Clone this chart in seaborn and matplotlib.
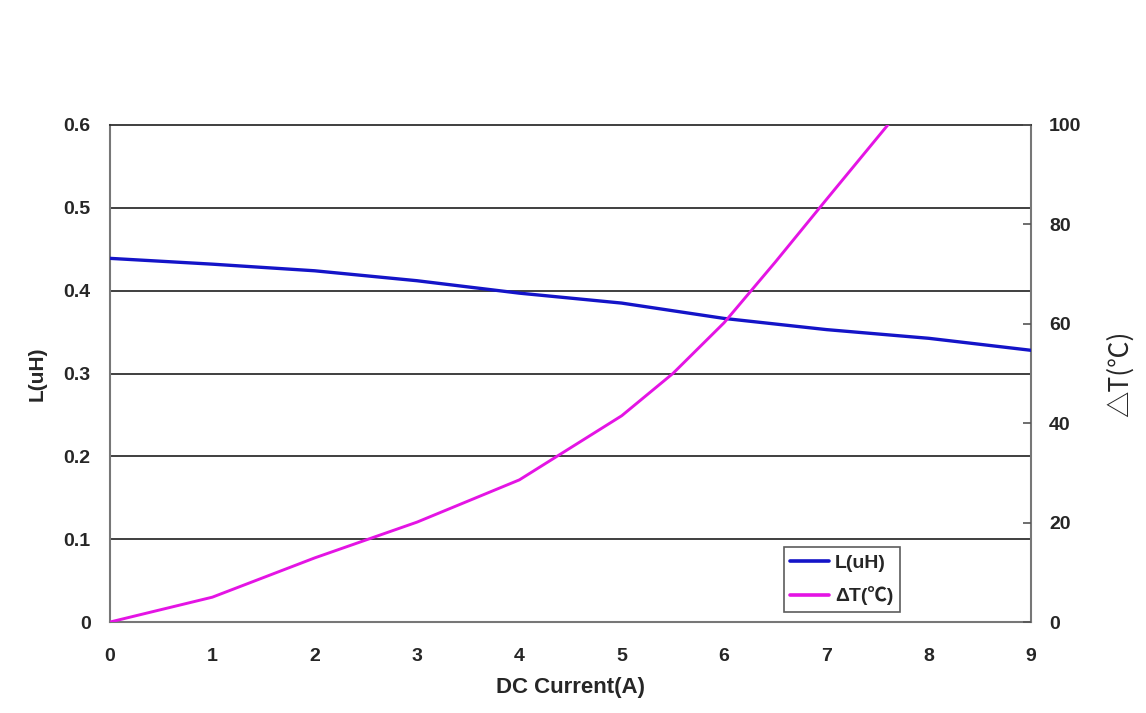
import matplotlib
matplotlib.use("Agg")
import matplotlib.pyplot as plt
import seaborn as sns
import pandas as pd
from matplotlib.lines import Line2D

# Data
current_L = [0, 1, 2, 3, 4, 5, 6, 7, 8, 9]
inductance = [0.439, 0.432, 0.424, 0.412, 0.397, 0.385, 0.3665, 0.353, 0.3425, 0.328]

current_T = [0, 1, 2, 3, 4, 5, 5.5, 6, 6.5, 7, 8]
delta_t = [0, 5.0, 12.9, 20.1, 28.6, 41.5, 50.0, 60.2, 72.4, 85.0, 110.0]

x_ticks = [0, 1, 2, 3, 4, 5, 6, 7, 8, 9]
left_ticks = [0, 0.1, 0.2, 0.3, 0.4, 0.5, 0.6]
left_labels = ["0", "0.1", "0.2", "0.3", "0.4", "0.5", "0.6"]
right_ticks = [0, 20, 40, 60, 80, 100]

sns.set_theme(style="white")
plt.rcParams["font.family"] = ["Liberation Sans", "DejaVu Sans"]

blue = "#1414c8"
magenta = "#e414e4"

fig = plt.figure(figsize=(11.46, 7.13), dpi=100)
ax = fig.add_axes([0.096, 0.1276, 0.8037, 0.6971])
ax2 = ax.twinx()

dfL = pd.DataFrame({"x": current_L, "y": inductance})
dfT = pd.DataFrame({"x": current_T, "y": delta_t})

sns.lineplot(data=dfL, x="x", y="y", ax=ax, color=blue, linewidth=2.4, zorder=5)
sns.lineplot(data=dfT, x="x", y="y", ax=ax2, color=magenta, linewidth=2.1)

ax.set_xlim(0, 9)
ax.set_ylim(0, 0.6)
ax2.set_ylim(0, 100)

# horizontal grid lines on left axis
for t in left_ticks[1:-1]:
    ax.axhline(t, color="#303030", linewidth=1.3, zorder=1)

ax.set_xticks(x_ticks)
ax.set_xticklabels([str(v) for v in x_ticks], fontsize=14, fontweight="bold")
ax.set_yticks(left_ticks)
ax.set_yticklabels(left_labels, fontsize=14, fontweight="bold")
ax2.set_yticks(right_ticks)
ax2.set_yticklabels([str(v) for v in right_ticks], fontsize=14, fontweight="bold")

ax.tick_params(axis="x", direction="in", length=6, width=1.2, color="#555555", pad=19)
ax.tick_params(axis="y", length=0, pad=14)
ax2.tick_params(axis="y", direction="in", length=6, width=1.2, color="#555555", pad=13)

for sp in ["left", "bottom", "right"]:
    ax.spines[sp].set_color("#777777")
    ax.spines[sp].set_linewidth(1.5)
ax.spines["top"].set_color("#303030")
ax.spines["top"].set_linewidth(1.3)
for sp in ax2.spines.values():
    sp.set_visible(False)

ax.set_xlabel("DC Current(A)", fontsize=16, fontweight="bold", labelpad=8)
ax.set_ylabel("L(uH)", fontsize=15, fontweight="bold", labelpad=12)
ax2.set_ylabel("△T(℃)", fontsize=19, labelpad=18,
               family=["Noto Sans CJK SC", "DejaVu Sans"])

handles = [Line2D([0], [0], color=blue, linewidth=2.6),
           Line2D([0], [0], color=magenta, linewidth=2.6)]
leg = ax2.legend(handles, ["L(uH)", "ΔT(℃)"], loc="lower left",
                 bbox_to_anchor=(0.725, 0.008), frameon=True, fancybox=False,
                 prop={"weight": "bold", "size": 14,
                       "family": ["Liberation Sans", "Noto Sans CJK SC"]},
                 handlelength=2.0, borderpad=0.35, labelspacing=0.75,
                 handletextpad=0.3, borderaxespad=0.3)
leg.get_frame().set_edgecolor("#333333")
leg.get_frame().set_linewidth(1.2)

fig.savefig("out.png", dpi=100, facecolor="white")
